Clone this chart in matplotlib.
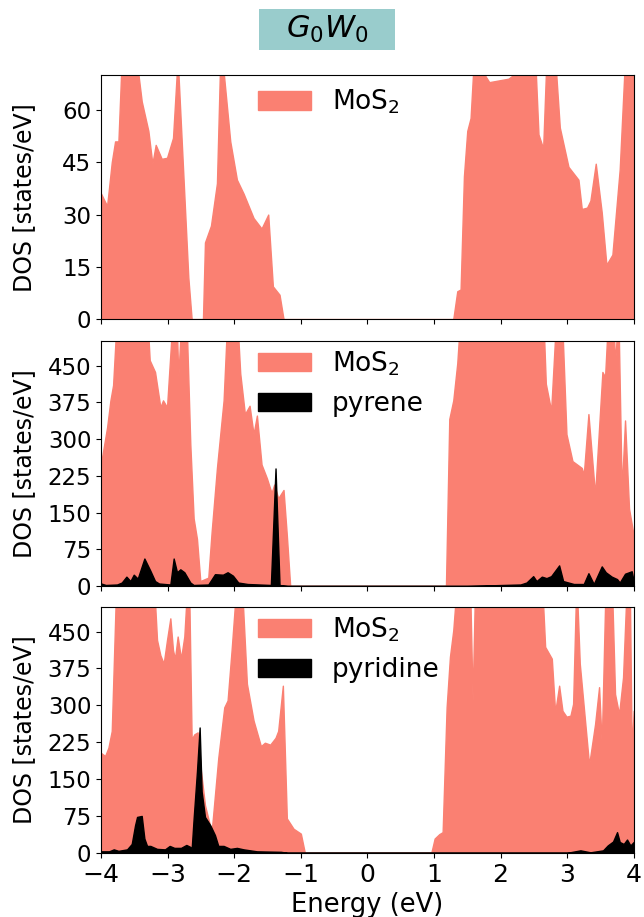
import matplotlib
matplotlib.use("Agg")
import matplotlib.pyplot as plt
from matplotlib.patches import Rectangle

# energia (eV) e DOS
e_mos2_top = [-4.0, -3.95, -3.91, -3.84, -3.79, -3.74, -3.69, -3.47, -3.39, -3.29,
              -3.23, -3.18, -3.09, -3.01, -2.92, -2.85, -2.69, -2.64, -2.47, -2.44,
              -2.35, -2.26, -2.21, -2.18, -2.06, -1.96, -1.86, -1.71, -1.59, -1.49,
              -1.42, -1.32, -1.26, 1.29, 1.35, 1.40, 1.45, 1.50, 1.55, 1.60,
              1.83, 2.12, 2.52, 2.57, 2.64, 2.69, 2.82, 2.89, 3.02, 3.17,
              3.22, 3.30, 3.35, 3.43, 3.52, 3.59, 3.68, 3.79, 3.87, 4.0]
dos_mos2_top = [36, 34, 32.5, 45, 51, 51, 75, 75, 62.5, 54,
                44.6, 50, 46, 46.3, 52, 75, 12, 0, 0, 22,
                26.8, 39, 75, 75, 51, 40, 36, 29, 26, 30,
                9.4, 7, 0, 0, 8, 8.5, 41, 54, 57.7, 75,
                68, 69, 75, 53, 49, 75, 75, 55, 43.7, 40,
                31.6, 32, 34, 44.6, 30.6, 15.6, 18.5, 43, 75, 75]

e_mos2_pyr = [-4.0, -3.91, -3.86, -3.82, -3.76, -3.31, -3.27, -3.19, -3.11, -3.07,
              -3.01, -2.92, -2.87, -2.84, -2.79, -2.72, -2.66, -2.61, -2.56, -2.51,
              -2.39, -2.34, -2.26, -2.16, -2.10, -1.96, -1.91, -1.84, -1.77, -1.71,
              -1.66, -1.59, -1.51, -1.44, -1.40, -1.34, -1.26, -1.21, -1.16, 1.18,
              1.23, 1.29, 1.35, 1.40, 2.64, 2.68, 2.76, 2.84, 2.92, 2.99,
              3.08, 3.22, 3.25, 3.32, 3.42, 3.53, 3.57, 3.62, 3.69, 3.72,
              3.77, 3.82, 3.87, 3.93, 4.0]
dos_mos2_pyr = [251, 324, 379, 410, 560, 560, 461, 437, 365, 379,
                365, 560, 560, 427, 560, 560, 289, 138, 96, 10,
                17, 110, 241, 379, 560, 560, 434, 351, 368, 310,
                348, 248, 220, 190, 207, 179, 196, 103, 0, 0,
                341, 379, 455, 560, 560, 413, 358, 560, 560, 310,
                255, 241, 227, 351, 186, 437, 427, 560, 560, 455,
                560, 193, 338, 158, 103]

e_pyrene = [-4.0, -3.93, -3.76, -3.69, -3.62, -3.56, -3.51, -3.45, -3.35, -3.26,
            -3.19, -3.13, -2.96, -2.91, -2.86, -2.81, -2.75, -2.66, -2.61, -2.39,
            -2.29, -2.17, -2.10, -2.02, -1.94, -1.80, -1.45, -1.38, -1.32, -1.2,
            1.5, 2.3, 2.39, 2.49, 2.54, 2.62, 2.69, 2.76, 2.88, 2.94,
            3.10, 3.25, 3.32, 3.40, 3.52, 3.58, 3.67, 3.75, 3.79, 3.87,
            3.97, 4.0]
dos_pyrene = [5, 2, 3, 7, 19, 10, 23, 15, 56, 31,
              10, 5, 3, 56, 28, 34, 28, 7, 2, 3,
              24, 23, 28, 21, 7, 4, 2, 240, 2, 0,
              0, 3, 7, 20, 10, 19, 16, 20, 42, 10,
              4, 4, 26, 4, 40, 28, 19, 14, 7, 25,
              30, 10]

e_mos2_pyd = [-4.0, -3.94, -3.89, -3.84, -3.77, -3.21, -3.16, -3.11, -3.06, -3.01,
              -2.96, -2.92, -2.89, -2.85, -2.80, -2.75, -2.70, -2.68, -2.64, -2.60,
              -2.55, -2.50, -2.44, -2.34, -2.24, -2.15, -2.10, -2.04, -1.96, -1.89,
              -1.81, -1.71, -1.60, -1.54, -1.46, -1.38, -1.34, -1.27, -1.21, -1.11,
              -1.00, -0.94, 0.96, 1.01, 1.08, 1.13, 1.19, 1.24, 1.29, 1.35,
              1.54, 1.58, 1.62, 2.62, 2.67, 2.77, 2.82, 2.88, 2.93, 2.99,
              3.05, 3.09, 3.14, 3.19, 3.33, 3.42, 3.48, 3.52, 3.58, 3.67,
              3.72, 3.78, 3.84, 3.90, 3.94, 3.97, 4.0]
dos_mos2_pyd = [203, 197, 214, 248, 560, 560, 433, 402, 385, 433,
                477, 412, 395, 440, 395, 440, 560, 560, 231, 241,
                245, 166, 97, 42, 193, 296, 310, 412, 560, 560,
                344, 269, 217, 224, 220, 234, 248, 340, 70, 49,
                39, 0, 0, 29, 38, 42, 296, 399, 453, 560,
                560, 310, 560, 560, 419, 395, 286, 340, 289, 277,
                279, 303, 560, 385, 179, 262, 337, 220, 560, 560,
                323, 282, 357, 560, 560, 207, 289]

e_pyridine = [-4.0, -3.88, -3.81, -3.74, -3.61, -3.54, -3.49, -3.46, -3.39, -3.35,
              -3.31, -3.26, -3.16, -3.04, -2.97, -2.90, -2.80, -2.72, -2.66, -2.64,
              -2.61, -2.56, -2.52, -2.49, -2.44, -2.36, -2.29, -2.24, -2.16, -2.06,
              -1.96, -1.86, -1.66, -1.3, -1.2, 3.0, 3.2, 3.35, 3.54, 3.61,
              3.69, 3.75, 3.79, 3.85, 3.90, 3.95, 4.0]
dos_pyridine = [3, 3, 7, 4, 7, 18, 56, 73, 75, 29,
                14, 14, 8, 7, 14, 10, 10, 16, 12, 7,
                70, 166, 255, 125, 73, 56, 36, 14, 14, 8,
                10, 7, 3, 2, 0, 0, 5, 1, 5, 15,
                23, 42, 22, 18, 27, 15, 22]

top_yticks = [0, 15, 30, 45, 60]
mol_yticks = [0, 75, 150, 225, 300, 375, 450]
xticks = [-4, -3, -2, -1, 0, 1, 2, 3, 4]

COR_MOS2 = "salmon"
COR_MOL = "black"

fig = plt.figure(figsize=(6.44, 9.17), dpi=100)
L, W = 0.157, 0.827
ax1 = fig.add_axes([L, 0.652, W, 0.266])
ax2 = fig.add_axes([L, 0.361, W, 0.267], sharex=ax1)
ax3 = fig.add_axes([L, 0.070, W, 0.268], sharex=ax1)

ax1.fill_between(e_mos2_top, dos_mos2_top, color=COR_MOS2, label="MoS$_2$")
ax1.set_ylim(0, 70)
ax1.set_yticks(top_yticks)

ax2.fill_between(e_mos2_pyr, dos_mos2_pyr, color=COR_MOS2, label="MoS$_2$")
ax2.fill_between(e_pyrene, dos_pyrene, color=COR_MOL, label="pyrene")
ax2.set_ylim(0, 500)
ax2.set_yticks(mol_yticks)

ax3.fill_between(e_mos2_pyd, dos_mos2_pyd, color=COR_MOS2, label="MoS$_2$")
ax3.fill_between(e_pyridine, dos_pyridine, color=COR_MOL, label="pyridine")
ax3.set_ylim(0, 500)
ax3.set_yticks(mol_yticks)

for ax, ytop in ((ax1, 1.045), (ax2, 1.063), (ax3, 1.063)):
    ax.set_xlim(-4, 4)
    ax.set_xticks(xticks)
    ax.tick_params(axis="x", labelsize=18)
    ax.tick_params(axis="y", labelsize=16.5)
    ax.set_ylabel("DOS [states/eV]", fontsize=17)
    ax.yaxis.set_label_coords(-0.122, 0.5)
    ax.legend(loc="upper left", bbox_to_anchor=(0.25, ytop), frameon=False,
              fontsize=19)
for ax in (ax1, ax2):
    ax.tick_params(labelbottom=False)
ax3.set_xlabel("Energy (eV)", fontsize=18.5)

# caixa do titulo
fig.patches.append(Rectangle((259 / 644, 1 - 50 / 917), 136 / 644, 41 / 917,
                             transform=fig.transFigure, facecolor="teal",
                             alpha=0.4, edgecolor="none"))
fig.text(327 / 644, 1 - 29.5 / 917, r"$G_0W_0$", ha="center", va="center",
         fontsize=22)

fig.savefig("out.png", dpi=100)
